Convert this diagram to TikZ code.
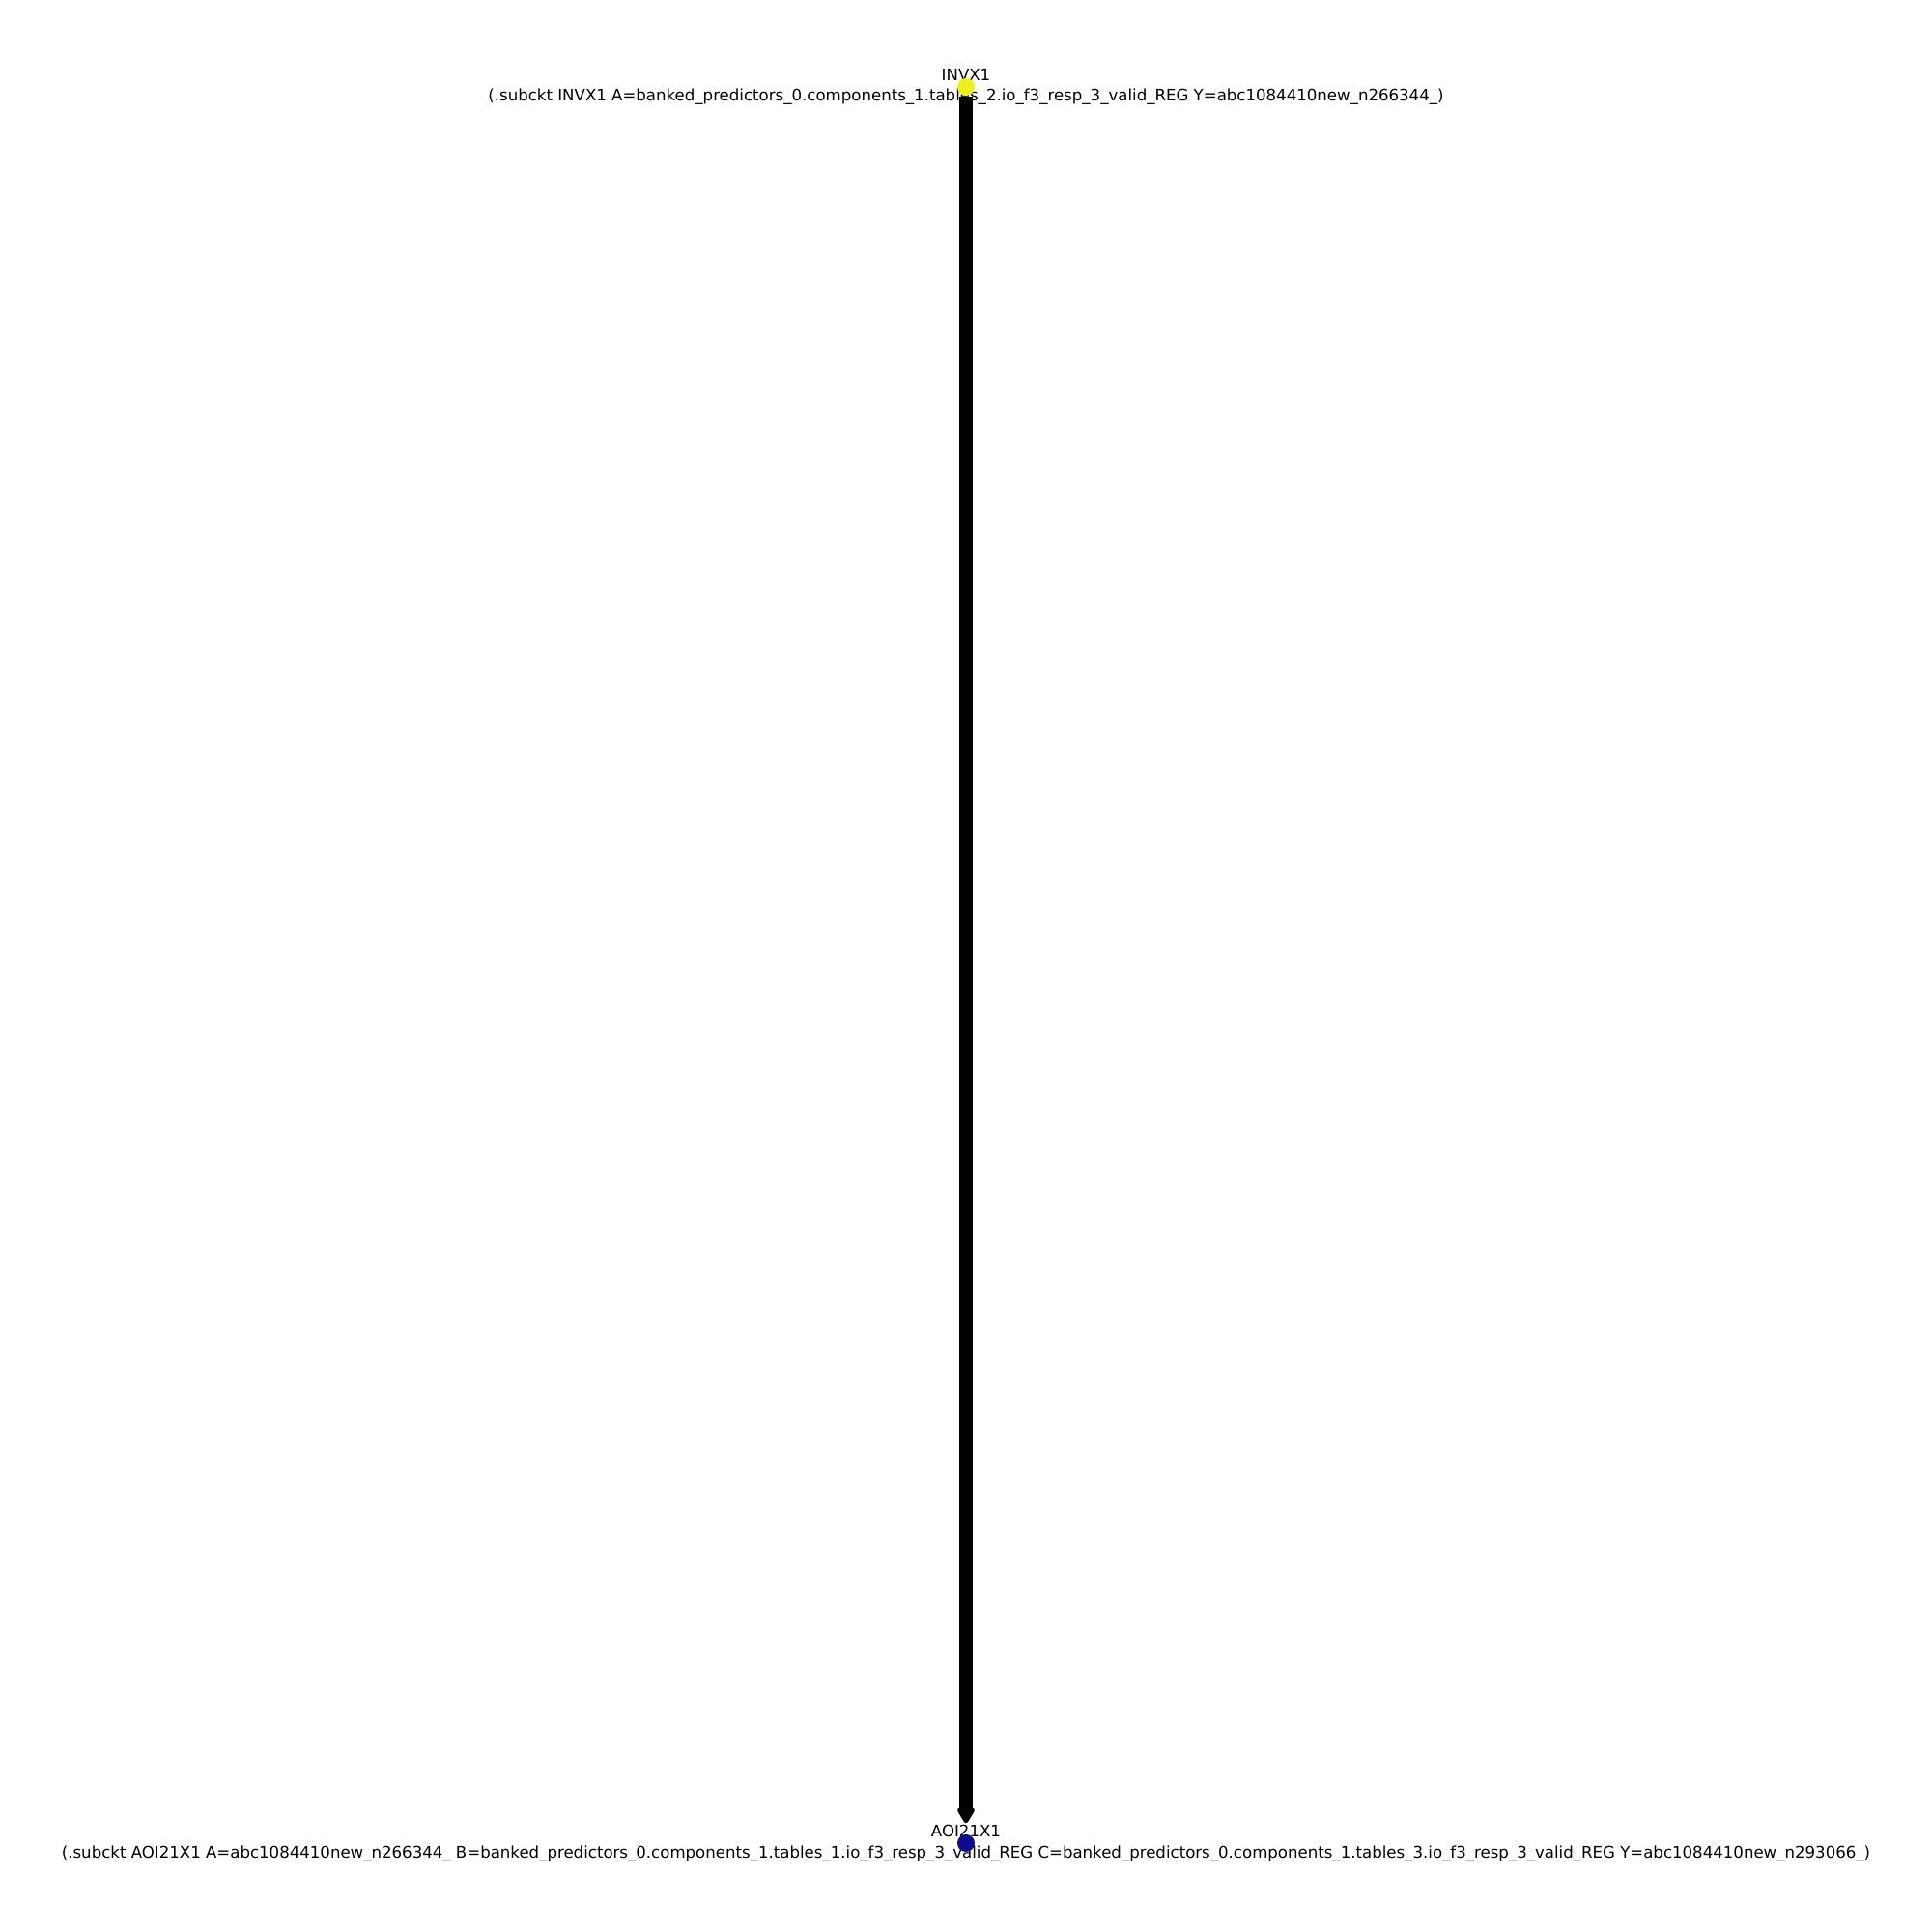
\documentclass[tikz,border=0pt]{standalone}
\usepackage{fontspec}
\setmainfont{DejaVu Sans}
\usetikzlibrary{arrows.meta}
\definecolor{cellyellow}{RGB}{238,240,30}
\definecolor{cellblue}{RGB}{12,12,140}
\begin{document}
\begin{tikzpicture}[>={Triangle[round, length=0.18cm, width=0.2cm, line width=0.08cm]},
    dot/.style={circle, inner sep=0pt, minimum size=0.18cm},
    lbl/.style={inner sep=0pt, align=center, font=\fontsize{4.72}{6.2}\selectfont}]
      \useasboundingbox (0,0) rectangle (20,20);
      \node[lbl] (invlbl) at (10,19.1) {INVX1\\(.subckt INVX1 A=banked\_predictors\_0.components\_1.tables\_2.io\_f3\_resp\_3\_valid\_REG Y=abc1084410new\_n266344\_)};
      \node[lbl] (aoilbl) at (10,0.92) {AOI21X1\\(.subckt AOI21X1 A=abc1084410new\_n266344\_ B=banked\_predictors\_0.components\_1.tables\_1.io\_f3\_resp\_3\_valid\_REG C=banked\_predictors\_0.components\_1.tables\_3.io\_f3\_resp\_3\_valid\_REG Y=abc1084410new\_n293066\_)};
      \node[dot, fill=cellyellow] (inv) at (10,19.1) {};
      \node[dot, fill=cellblue] (aoi) at (10,0.92) {};
      \draw[->, line width=0.147cm, shorten >=0.11cm] (inv) -- (aoi);
    \end{tikzpicture}
\end{document}
